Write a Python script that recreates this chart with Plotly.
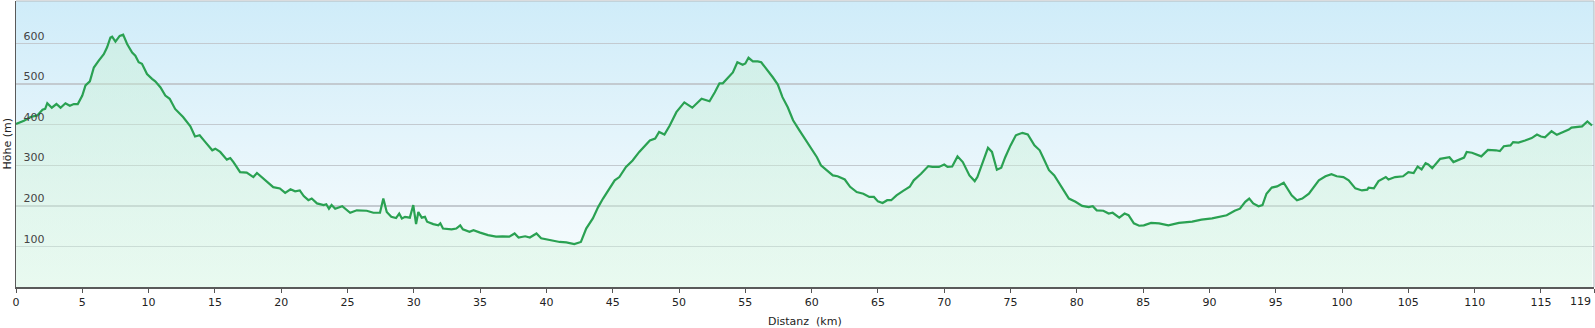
import base64
import plotly.graph_objects as go

dist_km = [
    0.0, 0.6, 1.1, 1.6, 2.0, 2.2, 2.36, 2.7, 3.05, 3.36, 3.73, 4.06, 4.36, 4.66, 5.0, 5.24, 5.57, 5.87,
    6.24, 6.62, 6.87, 7.12, 7.25, 7.5, 7.82, 8.08, 8.38, 8.76, 9.0, 9.25, 9.5, 9.88, 10.26, 10.5, 10.9,
    11.26, 11.59, 12.0, 12.6, 13.15, 13.5, 13.85, 14.28, 14.8, 15.03, 15.4, 15.9, 16.16, 16.4, 16.9,
    17.4, 17.9, 18.17, 18.67, 19.04, 19.4, 19.9, 20.3, 20.7, 21.05, 21.4, 21.7, 22.05, 22.3, 22.7,
    23.2, 23.4, 23.6, 23.8, 24.07, 24.6, 25.2, 25.7, 26.45, 26.95, 27.45, 27.7, 27.96, 28.3, 28.66,
    28.9, 29.1, 29.34, 29.7, 29.96, 30.17, 30.34, 30.6, 30.84, 31.0, 31.47, 31.85, 32.0, 32.2, 32.85,
    33.2, 33.5, 33.7, 34.2, 34.5, 35.0, 35.6, 36.2, 36.7, 37.2, 37.6, 37.9, 38.4, 38.75, 39.25, 39.6,
    40.25, 41.0, 41.5, 42.1, 42.6, 43.0, 43.5, 43.9, 44.27, 44.77, 45.15, 45.5, 46.0, 46.5, 47.0,
    47.8, 48.2, 48.5, 48.9, 49.3, 49.8, 50.4, 51.0, 51.7, 52.3, 52.7, 53.05, 53.3, 53.7, 54.06, 54.4,
    54.8, 55.0, 55.24, 55.57, 55.94, 56.2, 56.6, 57.07, 57.45, 57.8, 58.2, 58.6, 59.08, 59.6, 60.0,
    60.4, 60.7, 61.07, 61.6, 61.96, 62.5, 62.9, 63.4, 63.9, 64.35, 64.7, 65.0, 65.35, 65.7, 66.0,
    66.4, 66.9, 67.4, 67.7, 68.25, 68.8, 69.1, 69.6, 70.0, 70.25, 70.6, 71.0, 71.4, 71.9, 72.3, 72.5,
    73.0, 73.3, 73.6, 73.97, 74.3, 74.6, 75.0, 75.4, 75.9, 76.3, 76.8, 77.2, 77.5, 77.9, 78.3, 78.7,
    79.0, 79.4, 79.9, 80.4, 80.9, 81.2, 81.5, 82.0, 82.4, 82.7, 83.2, 83.6, 83.9, 84.3, 84.7, 85.05,
    85.6, 86.2, 86.9, 87.7, 88.7, 89.4, 90.2, 90.7, 91.3, 91.9, 92.3, 92.7, 93.0, 93.3, 93.7, 94.0,
    94.3, 94.7, 95.1, 95.6, 95.9, 96.2, 96.6, 97.0, 97.5, 97.9, 98.25, 98.75, 99.2, 99.6, 100.1,
    100.5, 101.0, 101.5, 101.9, 102.0, 102.4, 102.75, 103.3, 103.5, 104.0, 104.6, 105.0, 105.4,
    105.7, 106.0, 106.3, 106.5, 106.8, 107.4, 108.1, 108.4, 108.8, 109.2, 109.4, 109.8, 110.5,
    111.0, 111.6, 111.9, 112.2, 112.7, 112.9, 113.3, 113.8, 114.3, 114.7, 115.0, 115.3, 115.8,
    116.2, 116.7, 117.1, 117.3, 117.8, 118.1, 118.5, 118.7, 118.85,
]
elev_m = [
    402, 410, 419, 423, 437, 439, 453, 442, 451, 442, 453, 447, 451, 451, 472, 497, 507, 541,
    558, 574, 591, 615, 617, 605, 619, 622, 599, 578, 570, 554, 550, 525, 513, 507, 492,
    472, 464, 439, 419, 396, 371, 374, 357, 337, 341, 333, 314, 318, 308, 283,
    282, 271, 281, 267, 255, 246, 243, 232, 241, 236, 238, 224, 214, 218, 206,
    202, 204, 193, 202, 193, 199, 183, 189, 188, 183, 183, 218, 185, 173, 170,
    181, 169, 173, 171, 202, 155, 185, 171, 173, 161, 155, 152, 157, 144, 142,
    144, 152, 142, 136, 140, 134, 128, 124, 125, 124, 132, 122, 125, 122, 132, 120,
    116, 111, 110, 106, 111, 144, 169, 197, 218, 243, 263, 271, 296, 312, 333,
    361, 366, 382, 376, 398, 431, 455, 442, 464, 458, 480, 502, 502, 517, 529, 554,
    548, 551, 565, 556, 556, 554, 538, 517, 499, 468, 443, 411, 386, 361, 341,
    320, 300, 289, 275, 273, 265, 247, 234, 230, 222, 222, 211, 207, 214, 214,
    226, 237, 247, 263, 279, 298, 296, 296, 302, 296, 297, 322, 308, 275, 261, 271,
    316, 343, 333, 289, 294, 320, 349, 374, 380, 376, 349, 337, 316, 288, 275, 255,
    238, 218, 210, 200, 197, 199, 189, 188, 181, 183, 171, 181, 177, 157, 151, 152,
    158, 157, 152, 158, 161, 166, 169, 173, 177, 188, 193, 210, 218, 206, 199, 202,
    230, 245, 248, 257, 243, 226, 214, 218, 230, 247, 263, 273, 278, 273, 271,
    263, 243, 238, 240, 245, 243, 261, 271, 265, 271, 273, 283, 281,
    297, 290, 305, 302, 293, 316, 320, 308, 314, 319, 333, 331, 322,
    338, 337, 335, 347, 349, 357, 356, 361, 367, 376, 371, 369, 384,
    375, 382, 388, 393, 396, 396, 408, 402, 398,
]

x_tickvals = [0, 5, 10, 15, 20, 25, 30, 35, 40, 45, 50, 55, 60, 65, 70, 75, 80, 85, 90, 95, 100,
              105, 110, 115, 119]
x_ticktext = ["0", "5", "10", "15", "20", "25", "30", "35", "40", "45", "50", "55", "60", "65",
              "70", "75", "80", "85", "90", "95", "100", "105", "110", "115", "119"]
y_tickvals = [100, 200, 300, 400, 500, 600]
x_range = [0, 119]
y_range = [0, 705]

FONT = "Verdana, DejaVu Sans, sans-serif"

svg = ('<svg xmlns="http://www.w3.org/2000/svg" width="10" height="100" preserveAspectRatio="none">'
       '<defs><linearGradient id="g" x1="0" y1="0" x2="0" y2="1">'
       '<stop offset="0" stop-color="#cfecf9"/><stop offset="0.7" stop-color="#eef8fc"/>'
       '<stop offset="1" stop-color="#f8fdfd"/>'
       '</linearGradient></defs><rect width="10" height="100" fill="url(#g)"/></svg>')
bg_src = "data:image/svg+xml;base64," + base64.b64encode(svg.encode()).decode()

fig = go.Figure()
fig.add_trace(go.Scatter(
    x=dist_km, y=elev_m, mode="lines",
    line=dict(color="#2aa152", width=2.2),
    fill="tozeroy",
    fillgradient=dict(type="vertical", start=0, stop=640,
                      colorscale=[[0, "rgba(214,246,224,0.45)"], [1, "rgba(196,238,206,0.40)"]]),
    hoverinfo="skip", showlegend=False,
))

# last tick label is drawn right-aligned to the tick so it stays inside the page
shown_text = x_ticktext[:-1] + [""]

fig.update_layout(
    template="none",
    width=1595, height=328,
    margin=dict(l=16, r=1, t=1, b=41, autoexpand=False),
    paper_bgcolor="white",
    plot_bgcolor="rgba(0,0,0,0)",
    font=dict(family=FONT, size=11, color="#222222"),
    images=[dict(source=bg_src, xref="paper", yref="paper", x=0, y=1, sizex=1, sizey=1,
                 xanchor="left", yanchor="top", sizing="stretch", layer="below")],
    xaxis=dict(range=x_range, tickvals=x_tickvals, ticktext=shown_text, ticks="outside",
               ticklen=4, tickwidth=1, tickcolor="#555555", showline=True, linecolor="#5a5a5a",
               linewidth=1.5, showgrid=False, zeroline=False, fixedrange=True, automargin=False,
               ticklabeloverflow="allow"),
    yaxis=dict(range=y_range, tickvals=y_tickvals, ticks="", ticklabelposition="inside top",
               ticklabelstandoff=6, showline=True, linecolor="#5a5a5a", linewidth=1.5,
               showgrid=True, gridcolor="#c3cad0", gridwidth=1.5, zeroline=False, fixedrange=True,
               automargin=False, ticklabeloverflow="allow"),
    shapes=[
        dict(type="line", xref="paper", yref="paper", x0=0, x1=1, y0=1, y1=1,
             line=dict(color="#b4b9bd", width=1), layer="above"),
        dict(type="line", xref="paper", yref="paper", x0=1, x1=1, y0=0, y1=1,
             line=dict(color="#b4b9bd", width=1), layer="above"),
    ],
    annotations=[
        dict(text=x_ticktext[-1], xref="x", yref="paper", x=x_tickvals[-1], y=0, yshift=-14,
             xanchor="right", xshift=-1, yanchor="middle", showarrow=False, font=dict(size=11)),
        dict(text="Distanz\u00a0 (km)", xref="paper", yref="paper", x=0.5, y=0, yshift=-34,
             xanchor="center", yanchor="middle", showarrow=False, font=dict(size=11)),
        dict(text="Höhe (m)", xref="paper", yref="paper", x=0, xshift=-9.5, y=0.5,
             xanchor="center", yanchor="middle", textangle=-90, showarrow=False, font=dict(size=11)),
    ],
)

fig.write_html(
    "out.html",
    config={"displayModeBar": False, "staticPlot": True},
    post_script="document.body.style.margin='0';document.body.style.padding='0';"
                "document.body.style.overflow='hidden';",
)
